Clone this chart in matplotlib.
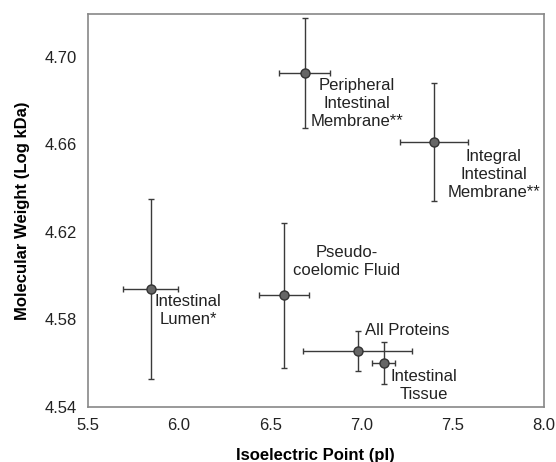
import matplotlib
matplotlib.use("Agg")
import matplotlib.pyplot as plt

plt.rcParams['font.family'] = ['Liberation Sans', 'DejaVu Sans']

names = ["Peripheral\nIntestinal\nMembrane**", "Integral\nIntestinal\nMembrane**",
         "Intestinal\nLumen*", "Pseudo-\ncoelomic Fluid", "All Proteins", "Intestinal\nTissue"]
pI = [6.69, 7.40, 5.845, 6.575, 6.98, 7.123]
pI_err = [0.14, 0.187, 0.15, 0.135, 0.30, 0.063]
logmw = [4.6925, 4.661, 4.594, 4.591, 4.5656, 4.560]
logmw_err = [0.025, 0.027, 0.041, 0.033, 0.0093, 0.0095]
label_xy = [(6.975, 4.690), (7.726, 4.658), (6.05, 4.5915), (6.92, 4.614), (7.25, 4.5785), (7.34, 4.5575)]

xticks = [5.5, 6.0, 6.5, 7.0, 7.5, 8.0]
yticks = [4.54, 4.58, 4.62, 4.66, 4.70]

fig = plt.figure(figsize=(5.56, 4.62), dpi=100)
ax = fig.add_axes([0.158, 0.119, 0.820, 0.851])

ax.errorbar(pI, logmw, xerr=pI_err, yerr=logmw_err, fmt='o', color='#3a3a3a',
            ecolor='#3a3a3a', elinewidth=1.0, capsize=2.5, capthick=1.0,
            markersize=6.5, markerfacecolor='#666666', markeredgecolor='#333333',
            markeredgewidth=1.0, zorder=3)

for name, (lx, ly) in zip(names, label_xy):
    ax.text(lx, ly, name, ha='center', va='top', fontsize=12, color='#222222',
            linespacing=1.25)

ax.set_xlim(5.5, 8.0)
ax.set_ylim(4.54, 4.7195)
ax.set_xticks(xticks)
ax.set_xticklabels([f"{v:.1f}" for v in xticks])
ax.set_yticks(yticks)
ax.set_yticklabels([f"{v:.2f}" for v in yticks])
ax.tick_params(length=0, labelsize=12, pad=8, colors='#222222')
for s in ax.spines.values():
    s.set_color('#888888')
    s.set_linewidth(1.2)

ax.set_xlabel("Isoelectric Point (pI)", fontsize=12, fontweight='bold', labelpad=11)
ax.set_ylabel("Molecular Weight (Log kDa)", fontsize=12, fontweight='bold', labelpad=10)

fig.savefig("out.png", dpi=100)
